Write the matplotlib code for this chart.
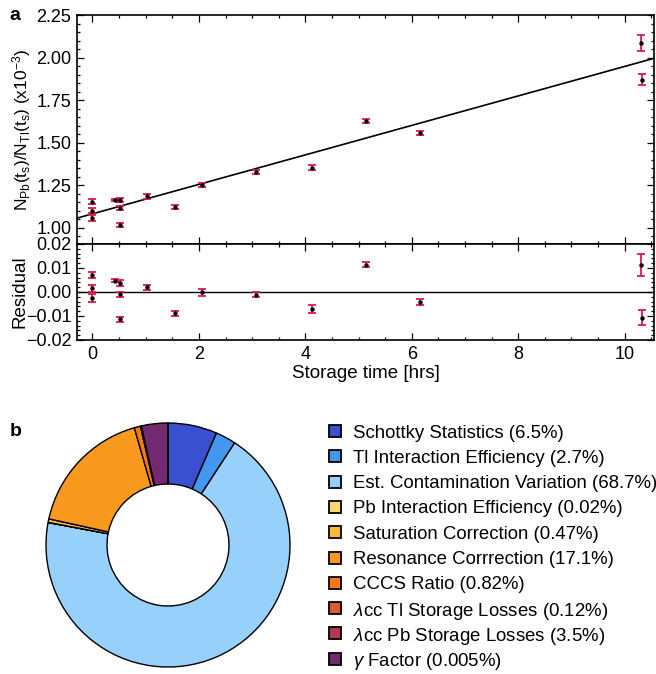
import numpy as np
import matplotlib.pyplot as plt
from matplotlib.patches import Rectangle
from matplotlib.ticker import MultipleLocator

plt.rcParams['font.family'] = ['Liberation Sans', 'DejaVu Sans']
plt.rcParams['mathtext.fontset'] = 'custom'
plt.rcParams['mathtext.rm'] = 'Liberation Sans'
plt.rcParams['mathtext.it'] = 'Liberation Sans:italic'
plt.rcParams['mathtext.default'] = 'regular'

# storage time [hrs] and measured ratio N_Pb/N_Tl (x1e-3)
storage_time = [0.0, 0.0, 0.0, 0.42, 0.52, 0.52, 0.52, 1.03, 1.56, 2.06,
                3.08, 4.13, 5.14, 6.16, 10.30, 10.32]
ratio = [1.154, 1.100, 1.057, 1.164, 1.163, 1.116, 1.016, 1.184, 1.123, 1.252,
         1.327, 1.354, 1.628, 1.559, 2.087, 1.869]
ratio_err = [0.013, 0.015, 0.016, 0.008, 0.012, 0.012, 0.010, 0.012, 0.010, 0.014,
             0.010, 0.016, 0.010, 0.012, 0.046, 0.032]

# residuals of the linear fit
residual = [0.0071, 0.0015, -0.0025, 0.0047, 0.0036, -0.0010, -0.0113, 0.0019,
            -0.0089, -0.0001, -0.0011, -0.0072, 0.0113, -0.0043, 0.0113, -0.0107]
residual_err = [0.0013, 0.0014, 0.0015, 0.0007, 0.0012, 0.0011, 0.0010, 0.0012,
                0.0010, 0.0014, 0.0010, 0.0016, 0.0010, 0.0012, 0.0045, 0.0030]

# linear fit parameters
fit_intercept = 1.082
fit_slope = 0.0866

# uncertainty budget
sources = ['Schottky Statistics', 'Tl Interaction Efficiency',
           'Est. Contamination Variation', 'Pb Interaction Efficiency',
           'Saturation Correction', 'Resonance Corrrection', 'CCCS Ratio',
           r'$\mathit{\lambda}$cc Tl Storage Losses',
           r'$\mathit{\lambda}$cc Pb Storage Losses', r'$\mathit{\gamma}$ Factor']
shares = [6.5, 2.7, 68.7, 0.02, 0.47, 17.1, 0.82, 0.12, 3.5, 0.005]
share_labels = ['6.5%', '2.7%', '68.7%', '0.02%', '0.47%', '17.1%', '0.82%',
                '0.12%', '3.5%', '0.005%']
legend_colors = ['#3b50d1', '#4497ef', '#97d1fb', '#fed86c', '#fbb935',
                 '#f99a1f', '#f97a12', '#df5832', '#b03a51', '#73296f']
wedge_colors = ['#3b50d1', '#4497ef', '#97d1fb', '#fed86c', '#fbb935',
                '#f99a1f', '#f97a12', '#b03a51', '#73296f', '#73296f']

W, H = 656, 674
fig = plt.figure(figsize=(W / 100, H / 100), dpi=100)

red = '#e0174d'
fs = 13


def style_axis(ax):
    ax.tick_params(which='both', direction='in', top=True, right=True,
                   labelsize=fs, width=0.9, pad=4)
    ax.tick_params(which='major', length=5)
    ax.tick_params(which='minor', length=2.5)
    for s in ax.spines.values():
        s.set_linewidth(1.2)


ax1 = fig.add_axes([77 / W, 1 - 244 / H, 577 / W, 229 / H])
ax2 = fig.add_axes([77 / W, 1 - 340 / H, 577 / W, 96 / H], sharex=ax1)

ax1.errorbar(storage_time, ratio, yerr=ratio_err, fmt='o', color='black',
             ms=2.2, ecolor=red, elinewidth=1.3, capsize=2.8, capthick=1.3)
xfit = np.array([-0.3, 10.55])
ax1.plot(xfit, fit_intercept + fit_slope * xfit, color='black', lw=1.2, zorder=1)
ax1.set_xlim(-0.29, 10.55)
ax1.set_ylim(0.905, 2.25)
ax1.yaxis.set_major_locator(MultipleLocator(0.25))
ax1.yaxis.set_minor_locator(MultipleLocator(0.05))
ax1.xaxis.set_major_locator(MultipleLocator(2))
ax1.xaxis.set_minor_locator(MultipleLocator(0.5))
ax1.yaxis.set_major_formatter(lambda v, p: f'{v:.2f}')
style_axis(ax1)
ax1.tick_params(labelbottom=False)
ax1.set_ylabel(r'$N_{Pb}(t_s)/N_{Tl}(t_s)$ (x10$^{-3}$)', fontsize=12.5)

ax2.errorbar(storage_time, residual, yerr=residual_err, fmt='o', color='black',
             ms=2.2, ecolor=red, elinewidth=1.3, capsize=2.8, capthick=1.3)
ax2.axhline(0, color='black', lw=1.0, zorder=1)
ax2.set_ylim(-0.02, 0.02)
ax2.yaxis.set_major_locator(MultipleLocator(0.01))
ax2.yaxis.set_minor_locator(MultipleLocator(0.002))
ax2.yaxis.set_major_formatter(lambda v, p: f'{v:.2f}'.replace('-', '\u2212'))
style_axis(ax2)
ax2.set_ylabel('Residual', fontsize=13.5)
ax2.set_xlabel('Storage time [hrs]', fontsize=13.5, labelpad=2)
ax1.yaxis.set_label_coords(-0.077, 0.5)
ax2.yaxis.set_label_coords(-0.084, 0.5)

fig.text(15 / W, 1 - 15 / H, 'a', fontsize=14, fontweight='bold', va='center', ha='center')
fig.text(16 / W, 1 - 432 / H, 'b', fontsize=14, fontweight='bold', va='center', ha='center')

# donut chart of the uncertainty budget
cx, cy, r = 168, 545, 122
pad = 4
ax3 = fig.add_axes([(cx - r - pad) / W, 1 - (cy + r + pad) / H,
                    2 * (r + pad) / W, 2 * (r + pad) / H])
ax3.pie(shares, colors=wedge_colors, startangle=90, counterclock=False,
        wedgeprops=dict(width=0.5, edgecolor='black', linewidth=1.0))
lim = (r + pad) / r
ax3.set_xlim(-lim, lim)
ax3.set_ylim(-lim, lim)
ax3.set_aspect('equal')
ax3.axis('off')

# legend rows, one square and one label per source
row0, row_step = 431, 25.3
for i, (name, pct, col) in enumerate(zip(sources, share_labels, legend_colors)):
    yc = row0 + i * row_step
    fig.patches.append(Rectangle((329 / W, 1 - (yc + 6) / H), 12 / W, 12 / H,
                                 transform=fig.transFigure, facecolor=col,
                                 edgecolor='black', linewidth=1.3))
    fig.text(353 / W, 1 - yc / H, f'{name} ({pct})', fontsize=13.4,
             va='center_baseline', ha='left')

fig.savefig('out.png', dpi=100)
